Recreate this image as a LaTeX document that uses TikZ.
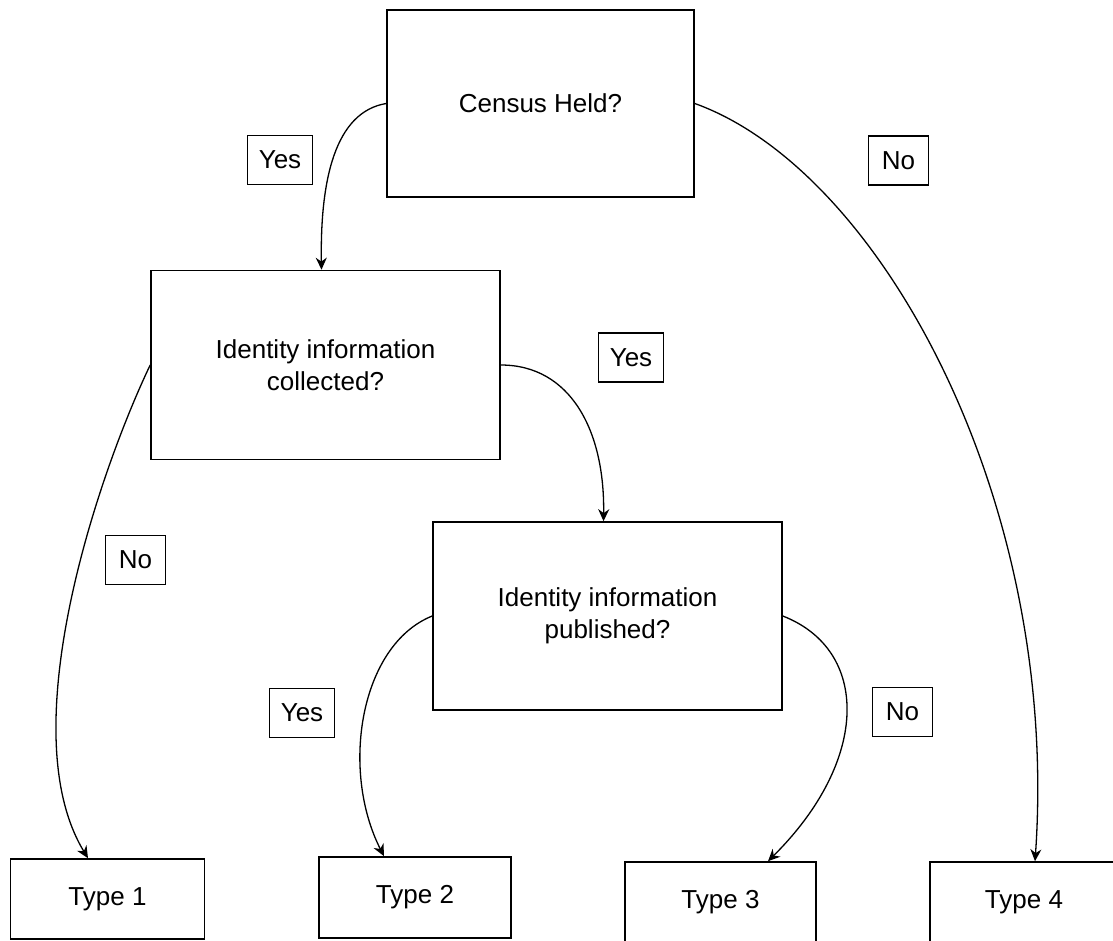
\documentclass[tikz,border=0pt]{standalone}
\usepackage{fontspec}
\setmainfont{Liberation Sans}
\usetikzlibrary{arrows.meta,positioning,calc}

\begin{document}
\begin{tikzpicture}[x=1pt,y=-1pt,
  box/.style={draw,line width=1.6pt,align=center,font=\fontsize{26}{32}\selectfont},
  tag/.style={draw,line width=1.2pt,minimum width=60pt,minimum height=49pt,inner xsep=11pt,font=\fontsize{26}{32}\selectfont},
  link/.style={line width=1.3pt,-{Stealth[length=12pt,width=11pt]}}]
  \useasboundingbox (0,0) rectangle (1113,940);
  \node[box,minimum width=307pt,minimum height=187pt] (census) at (540.5,103.5) {Census Held?};
  \node[box,minimum width=349pt,minimum height=189pt] (collected) at (325.5,365) {Identity information\\collected?};
  \node[box,minimum width=349pt,minimum height=188pt] (published) at (607.5,616) {Identity information\\published?};
  \node[box,minimum width=194pt,minimum height=80pt] (type1) at (107.5,899) {Type 1};
  \node[box,minimum width=192pt,minimum height=81pt] (type2) at (415,897.5) {Type 2};
  \node[box,minimum width=191pt,minimum height=80pt] (type3) at (720.5,902) {Type 3};
  \node[box,minimum width=188pt,minimum height=80pt] (type4) at (1024,902) {Type 4};

  \node[tag] (yes1) at (280,160) {Yes};
  \node[tag] (no1) at (898.5,160.5) {No};
  \node[tag] (yes2) at (631,357.5) {Yes};
  \node[tag] (no2) at (135.5,560) {No};
  \node[tag] (yes3) at (302,713) {Yes};
  \node[tag] (no3) at (902.5,712) {No};

  \draw[link] (census.west) .. controls (335,112) and (320,180) .. ([xshift=-4pt]collected.north);
  \draw[link] (census.east) .. controls (880,170) and (1060,500) .. ([xshift=11pt]type4.north);
  \draw[link] (collected.east) .. controls (570,365) and (605,430) .. ([xshift=-4pt]published.north);
  \draw[link] (collected.west) .. controls (100,470) and (10,730) .. ([xshift=-19.5pt]type1.north);
  \draw[link] (published.west) .. controls (360,645) and (340,770) .. ([xshift=-31pt]type2.north);
  \draw[link] (published.east) .. controls (870,650) and (870,760) .. ([xshift=47.5pt]type3.north);
\end{tikzpicture}
\end{document}
